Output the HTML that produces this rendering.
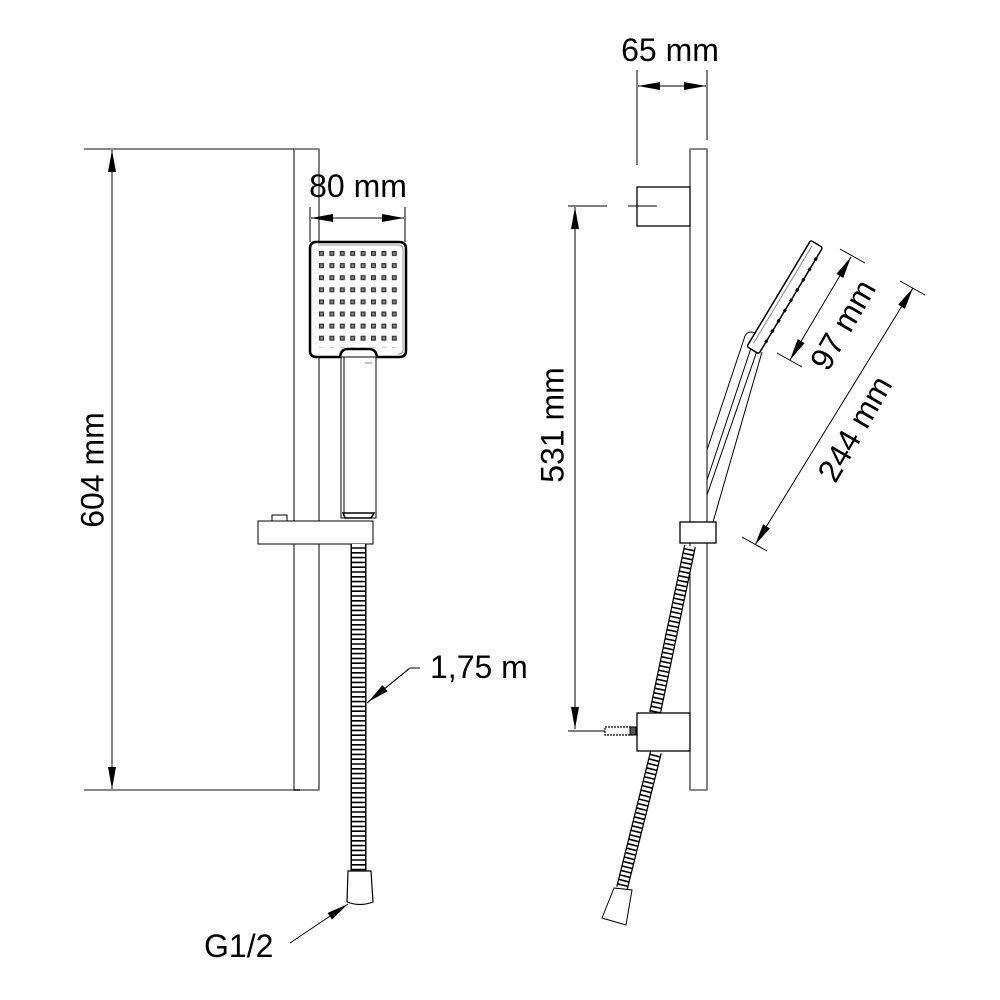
<!DOCTYPE html>
<html><head><meta charset="utf-8"><style>
html,body{margin:0;padding:0;background:#fff}
svg{display:block}
text{font-family:"Liberation Sans",Arial,sans-serif;fill:#000}
</style></head><body>
<svg width="1000" height="1000" viewBox="0 0 1000 1000" xmlns="http://www.w3.org/2000/svg">
<defs>
<marker id="a" viewBox="0 0 22 8" refX="22" refY="4" markerWidth="22" markerHeight="8" markerUnits="userSpaceOnUse" orient="auto-start-reverse"><path d="M0,0 L22,4 L0,8 Z" fill="#000"/></marker>
<pattern id="dots" x="319" y="251" width="10.4" height="12.1" patternUnits="userSpaceOnUse"><rect x="0" y="0" width="5" height="5" fill="#333"/><rect x="1.2" y="1.2" width="2.6" height="2.6" fill="#888"/></pattern>
</defs>
<g fill="none" stroke="#000" stroke-width="1">
<line x1="84" y1="149" x2="294" y2="149" stroke="#888" stroke-width="2"/>
<line x1="84" y1="790" x2="300" y2="790" stroke="#888" stroke-width="2"/>
<line x1="112" y1="150" x2="112" y2="789" marker-start="url(#a)" marker-end="url(#a)"/>
<rect x="294" y="149" width="25" height="641"/>
<line x1="294" y1="149" x2="319" y2="149" stroke="#888" stroke-width="2"/>
<line x1="300" y1="790" x2="319" y2="790" stroke="#888" stroke-width="2"/>
<line x1="310" y1="207" x2="310" y2="242"/>
<line x1="405" y1="207" x2="405" y2="242"/>
<line x1="311" y1="218" x2="404" y2="218" marker-start="url(#a)" marker-end="url(#a)"/>
<path d="M316,242 H399 Q406,242 406,249 V351 Q406,357 399,357 H377 Q376,349 369,349 H348 Q341,349 340,357 H317 Q310,357 310,351 V249 Q310,242 316,242 Z" fill="#fff" stroke-width="2.5"/>
<path d="M318,245 H398 Q403,245 403,250 V350 Q403,354 398,354" stroke="#999"/>
<rect x="319" y="251" width="80" height="97" fill="url(#dots)" stroke="none"/>
<rect x="341" y="357" width="35" height="161" fill="#fff"/>
<line x1="344" y1="357" x2="344" y2="516"/>
<line x1="365" y1="363" x2="372" y2="363" stroke="#888"/>
<path d="M343,513 H374 L371,518 H345 Z" stroke-width="1.5"/>
<rect x="258" y="521" width="115" height="23" fill="#fff"/>
<rect x="272" y="515" width="15" height="6" fill="#fff"/>
<line x1="358.5" y1="544" x2="358.5" y2="871" stroke="#000" stroke-width="16"/>
<line x1="358.5" y1="544" x2="358.5" y2="871" stroke="#fff" stroke-width="13" stroke-dasharray="3.2 1.6"/>
<path d="M348,871 H371 L373,902 Q360,907 347,902 Z" fill="#fff" stroke-width="1.2"/>
<polyline points="367,703 410,668 420,668"/>
<line x1="410" y1="668" x2="368" y2="702" marker-end="url(#a)"/>
<line x1="290" y1="943" x2="348" y2="904" marker-end="url(#a)"/>

<line x1="637" y1="70" x2="637" y2="165"/>
<line x1="707" y1="70" x2="707" y2="140"/>
<line x1="638" y1="86" x2="706" y2="86" marker-start="url(#a)" marker-end="url(#a)"/>
<rect x="690" y="149" width="17" height="641"/>
<line x1="690" y1="149" x2="707" y2="149" stroke="#888" stroke-width="2"/>
<line x1="690" y1="790" x2="707" y2="790" stroke="#888" stroke-width="2"/>
<rect x="637" y="187" width="53" height="39" fill="#fff" stroke-width="1.3"/>
<line x1="568" y1="206" x2="607" y2="206"/>
<line x1="628" y1="206" x2="657" y2="206"/>
<line x1="575" y1="207" x2="575" y2="729" marker-start="url(#a)" marker-end="url(#a)"/>
<line x1="568" y1="731" x2="605" y2="731"/>
<rect x="605" y="727" width="28" height="8" stroke-width="1.2" stroke-dasharray="2 1"/>
<rect x="630" y="727" width="6" height="8" fill="#555"/>
<line x1="690" y1="546" x2="655" y2="713" stroke="#000" stroke-width="12"/>
<line x1="690" y1="546" x2="655" y2="713" stroke="#fff" stroke-width="9.5" stroke-dasharray="3 1.6"/>
<line x1="656" y1="752" x2="622" y2="888" stroke="#000" stroke-width="12"/>
<line x1="656" y1="752" x2="622" y2="888" stroke="#fff" stroke-width="9.5" stroke-dasharray="3 1.6"/>
<path d="M614,888 L632,890 L626,925 L602,918 Z" fill="#fff"/>
<rect x="637" y="713" width="53" height="38" fill="#fff" stroke-width="1.3"/>
<rect x="680" y="522" width="36" height="21" fill="#fff" stroke-width="1.3"/>
<line x1="745" y1="336" x2="707" y2="450"/>
<line x1="752" y1="345" x2="707" y2="480"/>
<line x1="758" y1="348" x2="707" y2="495"/>
<line x1="762" y1="352" x2="713" y2="522"/>
<path d="M745,336 Q748,330 755,333" />
<g transform="translate(753,348) rotate(31)">
<rect x="-6" y="-122" width="14" height="124" rx="2" fill="#fff" stroke-width="1.5"/>
<line x1="-2" y1="-118" x2="-2" y2="-4" stroke="#888"/>
<line x1="8" y1="-110" x2="8" y2="-10" stroke="#000" stroke-width="3" stroke-dasharray="3 9"/>
</g>
<line x1="840" y1="249" x2="865" y2="263"/>
<line x1="777" y1="353" x2="802" y2="367"/>
<line x1="851" y1="257" x2="790" y2="360" marker-start="url(#a)" marker-end="url(#a)"/>
<line x1="900" y1="281" x2="925" y2="295"/>
<line x1="742" y1="537" x2="767" y2="551"/>
<line x1="913" y1="288" x2="755" y2="545" marker-start="url(#a)" marker-end="url(#a)"/>
</g>
<g font-size="32">
<text x="95" y="470" text-anchor="middle" transform="rotate(-90 95 470)" dominant-baseline="middle">604 mm</text>
<text x="358" y="197" text-anchor="middle">80 mm</text>
<text x="430" y="678">1,75 m</text>
<text x="204" y="957">G1/2</text>
<text x="670" y="61" text-anchor="middle">65 mm</text>
<text x="555" y="425" text-anchor="middle" transform="rotate(-90 555 425)" dominant-baseline="middle">531 mm</text>
<text x="845" y="326" text-anchor="middle" transform="rotate(-60 845 326)" dominant-baseline="middle">97 mm</text>
<text x="857" y="430" text-anchor="middle" transform="rotate(-60 857 430)" dominant-baseline="middle">244 mm</text>
</g>
</svg>
</body></html>
